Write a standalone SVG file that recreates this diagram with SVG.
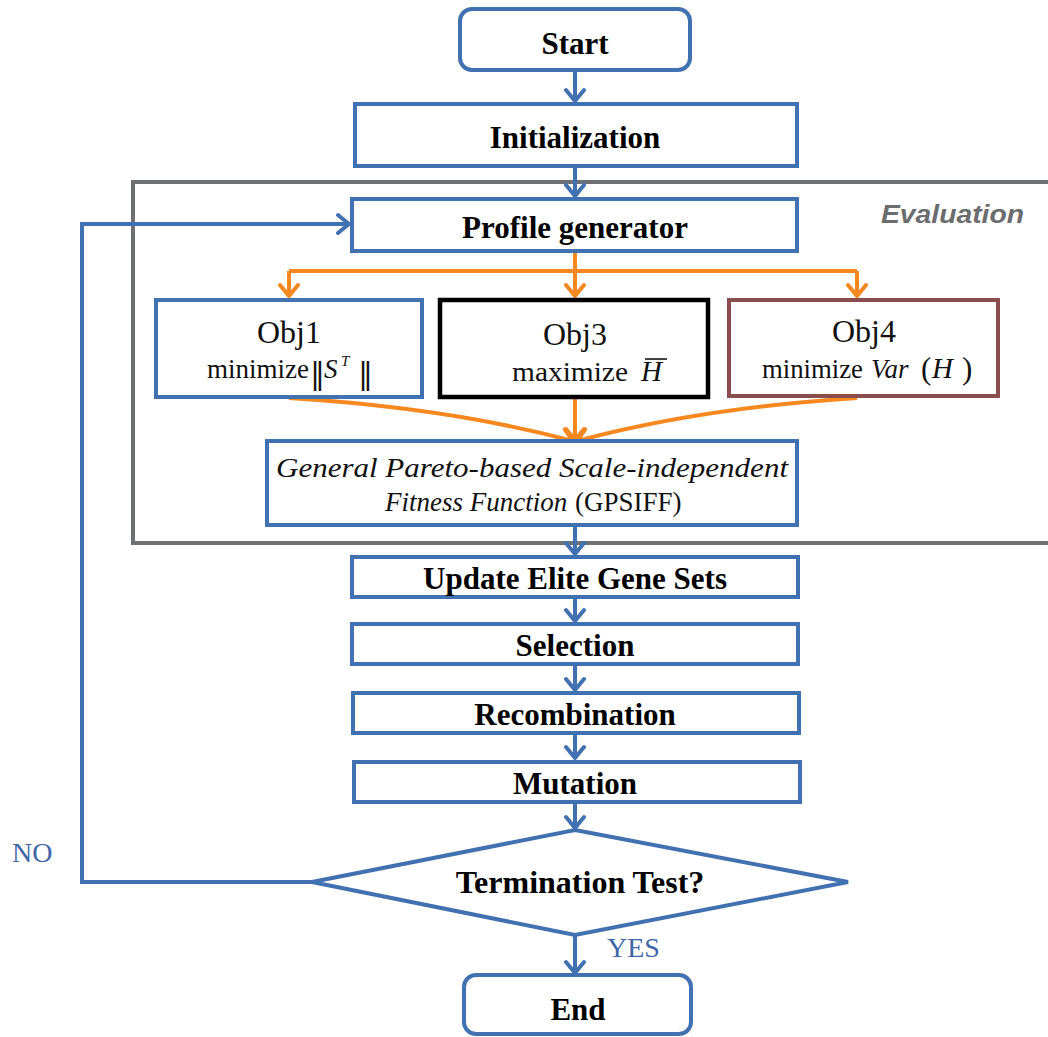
<svg xmlns="http://www.w3.org/2000/svg" width="1048" height="1037" viewBox="0 0 1048 1037">
  <style>
    .box { fill: #ffffff; stroke: #4271b2; stroke-width: 4; }
    .lbl { font-family: "Liberation Serif", "Times New Roman", serif; font-weight: bold; font-size: 31px; fill: #000; text-anchor: middle; }
    .obj { font-family: "Liberation Serif", "Times New Roman", serif; font-size: 32px; fill: #111; text-anchor: middle; }
    .sub { font-family: "Liberation Serif", "Times New Roman", serif; font-size: 27px; fill: #111; }
    .norm { font-family: "DejaVu Serif", "DejaVu Sans", serif; font-size: 30px; font-style: normal; }
    .it { font-style: italic; }
    .blue { fill: none; stroke: #4271b2; stroke-width: 4; }
    .orange { fill: none; stroke: #f7881f; stroke-width: 4; }
    .note { font-family: "Liberation Serif", "Times New Roman", serif; font-size: 28px; fill: #3f66a8; }
    .fit { font-family: "Liberation Serif", "Times New Roman", serif; font-size: 27px; fill: #111; }
  </style>
  <defs>
    <marker id="arrBlue" viewBox="-14 -12 16 24" markerWidth="16" markerHeight="24" refX="0" refY="0" orient="auto" markerUnits="userSpaceOnUse">
      <path d="M-11,-9 L0,0 L-11,9" fill="none" stroke="#4271b2" stroke-width="4" stroke-linecap="round" stroke-linejoin="round"/>
    </marker>
    <marker id="arrOrange" viewBox="-14 -12 16 24" markerWidth="16" markerHeight="24" refX="0" refY="0" orient="auto" markerUnits="userSpaceOnUse">
      <path d="M-11,-9 L0,0 L-11,9" fill="none" stroke="#f7881f" stroke-width="4" stroke-linecap="round" stroke-linejoin="round"/>
    </marker>
  </defs>

  <rect width="1048" height="1037" fill="#ffffff"/>

  <!-- Evaluation frame -->
  <g id="evaluation">
    <rect x="133" y="182" width="930" height="361" fill="none" stroke="#6e7073" stroke-width="4"/>
    <text x="1024" y="223" text-anchor="end" font-family="'Liberation Sans', Arial, sans-serif" font-size="25" font-weight="bold" font-style="italic" fill="#6b6c6e" textLength="143" lengthAdjust="spacingAndGlyphs">Evaluation</text>
  </g>

  <!-- Connectors -->
  <g id="connectors">
    <line class="blue" x1="575" y1="70" x2="575" y2="101" marker-end="url(#arrBlue)"/>
    <line class="blue" x1="575" y1="166" x2="575" y2="196" marker-end="url(#arrBlue)"/>
    <polyline class="blue" points="312,882 82,882 82,224 349,224" marker-end="url(#arrBlue)"/>
    <line class="blue" x1="575" y1="525" x2="575" y2="554" marker-end="url(#arrBlue)"/>
    <line class="blue" x1="575" y1="597" x2="575" y2="621" marker-end="url(#arrBlue)"/>
    <line class="blue" x1="575" y1="664" x2="575" y2="690" marker-end="url(#arrBlue)"/>
    <line class="blue" x1="575" y1="733" x2="575" y2="758" marker-end="url(#arrBlue)"/>
    <line class="blue" x1="575" y1="802" x2="575" y2="828" marker-end="url(#arrBlue)"/>
    <line class="blue" x1="575" y1="935" x2="575" y2="973" marker-end="url(#arrBlue)"/>

    <line class="orange" x1="575" y1="251" x2="575" y2="271"/>
    <line class="orange" x1="289" y1="271" x2="857" y2="271"/>
    <line class="orange" x1="289" y1="271" x2="289" y2="296" marker-end="url(#arrOrange)"/>
    <line class="orange" x1="575" y1="271" x2="575" y2="296" marker-end="url(#arrOrange)"/>
    <line class="orange" x1="857" y1="271" x2="857" y2="296" marker-end="url(#arrOrange)"/>
    <path class="orange" d="M289,398 Q450,408 573,441" marker-end="url(#arrOrange)"/>
    <line class="orange" x1="575" y1="398" x2="575" y2="440" marker-end="url(#arrOrange)"/>
    <path class="orange" d="M857,398 Q700,408 577,441" marker-end="url(#arrOrange)"/>
  </g>

  <g id="start">
    <rect class="box" x="460" y="9" width="230" height="61" rx="12"/>
    <text class="lbl" x="575" y="54">Start</text>
  </g>

  <g id="initialization">
    <rect class="box" x="355" y="104" width="442" height="62"/>
    <text class="lbl" x="575" y="148">Initialization</text>
  </g>

  <g id="profile-generator">
    <rect class="box" x="352" y="199" width="445" height="52"/>
    <text class="lbl" x="575" y="238">Profile generator</text>
  </g>

  <g id="obj1">
    <rect class="box" x="156" y="300" width="266" height="97"/>
    <text class="obj" x="289" y="343">Obj1</text>
    <text class="sub" x="207" y="378">minimize<tspan class="norm" x="310" y="384">‖</tspan><tspan class="it" x="324" y="378">S</tspan><tspan class="it" x="341" y="366" style="font-size:15px">T</tspan><tspan class="norm" x="358" y="384">‖</tspan></text>
  </g>

  <g id="obj3">
    <rect x="440" y="300" width="268" height="97" fill="#fff" stroke="#000" stroke-width="4.5"/>
    <text class="obj" x="575" y="345">Obj3</text>
    <text class="sub" x="512" y="381" textLength="116" lengthAdjust="spacingAndGlyphs">maximize</text>
    <text class="sub it" x="641" y="381" style="font-size:29px">H</text>
    <line x1="645" y1="359" x2="667" y2="359" stroke="#111" stroke-width="1.6"/>
  </g>

  <g id="obj4">
    <rect x="729" y="300" width="269" height="96" fill="#fff" stroke="#8a4c4c" stroke-width="4"/>
    <text class="obj" x="864" y="342">Obj4</text>
    <text class="sub" x="762" y="378" textLength="101" lengthAdjust="spacingAndGlyphs">minimize</text>
    <text class="sub it" x="871" y="378">Var</text>
    <text class="sub" x="921" y="379" style="font-size:31px">(</text>
    <text class="sub it" x="932" y="378" style="font-size:29px">H</text>
    <text class="sub" x="962" y="379" style="font-size:31px">)</text>
  </g>

  <g id="gpsiff">
    <rect class="box" x="267" y="441" width="530" height="84"/>
    <text class="fit it" x="532" y="477" text-anchor="middle" style="font-size:28px" textLength="512" lengthAdjust="spacingAndGlyphs">General Pareto-based Scale-independent</text>
    <text class="fit it" x="385" y="511">Fitness Function</text>
    <text class="fit" x="575" y="511">(GPSIFF)</text>
  </g>

  <g id="update-elite">
    <rect class="box" x="352" y="557" width="446" height="40"/>
    <text class="lbl" x="575" y="589">Update Elite Gene Sets</text>
  </g>

  <g id="selection">
    <rect class="box" x="352" y="624" width="446" height="40"/>
    <text class="lbl" x="575" y="656">Selection</text>
  </g>

  <g id="recombination">
    <rect class="box" x="353" y="693" width="446" height="40"/>
    <text class="lbl" x="575" y="725">Recombination</text>
  </g>

  <g id="mutation">
    <rect class="box" x="354" y="762" width="446" height="40"/>
    <text class="lbl" x="575" y="794">Mutation</text>
  </g>

  <g id="termination">
    <polygon class="box" points="575,830 848,882 575,935 312,882"/>
    <text class="lbl" x="580" y="893" style="font-size:32px">Termination Test?</text>
  </g>

  <g id="end">
    <rect class="box" x="464" y="975" width="227" height="59" rx="12"/>
    <text class="lbl" x="578" y="1020">End</text>
  </g>

  <text class="note" x="12" y="862">NO</text>
  <text class="note" x="607" y="957">YES</text>
</svg>
